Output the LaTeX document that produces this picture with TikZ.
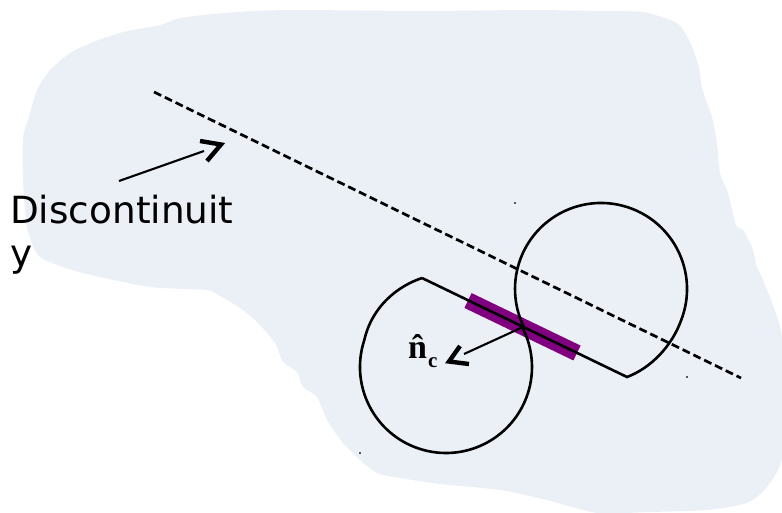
\documentclass[tikz,border=0pt]{standalone}
\usepackage{fontspec}
\setmainfont{DejaVu Sans}
\newfontfamily\labelserif{Liberation Serif}[BoldFont={Liberation Serif Bold}]
\definecolor{blobfill}{HTML}{EBF0F7}
\definecolor{contact}{HTML}{800080}
\tikzset{
  blob/.style={fill=blobfill,draw=none},
  outline/.style={draw=black,line width=2.6pt,line join=miter},
  shaft/.style={draw=black,line width=2.1pt},
  openhead/.style={draw=black,line width=4.4pt,line join=miter},
  speck/.style={fill=black!65,draw=none},
  contactbar/.style={draw=contact,line width=16.5pt},
  discline/.style={draw=black,line width=2.7pt,dash pattern=on 8pt off 4pt}
}
\begin{document}
\begin{tikzpicture}[x=1pt,y=-1pt]
\useasboundingbox (0,0) rectangle (782,512);
\fill[blob] plot[smooth cycle,tension=0.4] coordinates {
 (180,18) (213,14) (253,11) (300,10) (420,11) (530,10) (600,11) (643,12) (677,23) (690,42) (699,67) (702,88)
 (712,117) (717,143) (720,173) (728,193) (736,225) (743,230) (752,247) (757,267) (763,280)
 (782,337) (783,453) (767,487) (747,503) (707,510) (650,512) (597,513) (547,500) (500,490) (440,484)
 (400,478) (377,473) (360,460) (343,443) (327,420) (317,397) (303,387) (297,372) (283,362) (275,343)
 (257,322) (240,308) (220,296) (207,290) (150,287) (83,273) (40,257) (27,227) (23,180) (23,137)
 (28,120) (37,90) (50,70) (70,53) (93,42) (123,32) (160,25)};
\foreach \p in {(515,203),(687,377),(360,453)} \fill[speck] \p ++(-0.8,-1) rectangle ++(1.6,2);
\coordinate (barA) at (468,300.5);
\coordinate (barB) at (577,353);
\draw[contactbar] (barA) -- (barB);
\coordinate (cornerL) at (422,278);
\coordinate (cornerR) at (627,377);
% lower circle: shoulder into the corner, then the true arc
\draw[outline] (cornerL) .. controls (398,286) and (372,306) .. (364.2,340.4)
  arc[start angle=162,end angle=387.5,radius=86pt];
% straight side, shoulder, upper circle
\draw[outline] (cornerL) -- (cornerR) .. controls (651,368) and (672,346) .. (681.3,319.8)
  arc[start angle=-21,end angle=206,radius=86pt];
\coordinate (discA) at (154,92);
\coordinate (discB) at (741,378);
\draw[discline] (discA) -- (discB);
\coordinate (arrA1) at (119,181);
\coordinate (arrA2) at (204,151);
\coordinate (tipA) at (221,144.5);
\draw[shaft] (arrA1) -- (arrA2);
\draw[openhead] (200,141) -- (tipA) -- (207,161);
\coordinate (arrB1) at (523,327);
\coordinate (arrB2) at (464,354);
\coordinate (tipB) at (449,361.5);
\draw[shaft] (arrB1) -- (arrB2);
\draw[openhead] (460,346) -- (tipB) -- (469,364);
\node[anchor=base west,inner sep=0pt] (nlabel) at (408,358) {\labelserif\bfseries\fontsize{34}{34}\selectfont \^{n}\kern1pt\raisebox{-9pt}{\fontsize{21}{21}\selectfont c}};
\node[anchor=base west,inner sep=0pt] (disc) at (10,223.5) {\fontsize{37.4}{37.4}\selectfont Discontinuit};
\node[anchor=base west,inner sep=0pt] (disc2) at (10,266.5) {\fontsize{37.4}{37.4}\selectfont y};
\end{tikzpicture}
\end{document}
